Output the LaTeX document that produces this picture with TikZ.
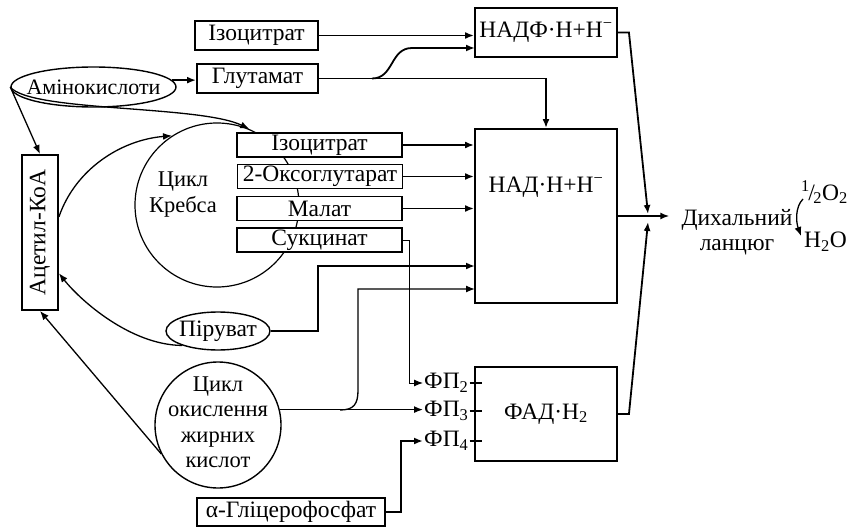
\documentclass[tikz,border=0pt]{standalone}
\usepackage{fontspec}
\setmainfont{Liberation Serif}
\usetikzlibrary{arrows.meta,calc,shapes.geometric}
\begin{document}
\begin{tikzpicture}[x=1pt,y=-1pt,
  font=\fontsize{23.5}{25.5}\selectfont,
  smallfont/.style={font=\fontsize{22.5}{25.5}\selectfont},
  box/.style={draw,line width=1.9pt,fill=white,inner sep=0pt},
  kbox/.style={box,minimum width=165pt,minimum height=24pt},
  shapeline/.style={draw,line width=1.4pt,inner sep=0pt},
  conn/.style={line width=1.8pt,-{Latex[length=9pt,width=7pt]}},
  thinconn/.style={line width=1.3pt,-{Latex[length=9pt,width=7pt]}},
  tick/.style={line width=1.6pt},
 ]
\useasboundingbox (0,0) rectangle (849,527);

% Krebs cycle circle (drawn first, boxes cover it)
\node[circle,shapeline,line width=1.2pt,minimum size=164pt] (krebs) at (217,205) {};
\node[align=center,smallfont] (krebstxt) at (183,194.5) {Цикл\\Кребса};

% boxes
\node[box,minimum width=123pt,minimum height=29pt] (iso1) at (256.5,35.5) {Ізоцитрат};
\node[box,minimum width=121pt,minimum height=29pt] (glu) at (257.5,78.5) {Глутамат};
\node[box,minimum width=142pt,minimum height=49pt] (nadph) at (546,32.5) {НАДФ·Н+Н\textsuperscript{−}};
\node[box,minimum width=142pt,minimum height=174pt] (nad) at (546,216) {};
\node (nadtxt) at (546,187) {НАД·Н+Н\textsuperscript{−}};
\node[box,minimum width=142pt,minimum height=94pt] (fad) at (546,414) {ФАД·Н\textsubscript{2}};

\node[kbox] (kiso) at (319.5,145) {Ізоцитрат};
\node[kbox] (koxo) at (320,176.5) {2-Оксоглутарат};
\node[kbox] (kmal) at (319.5,208.5) {Малат};
\node[kbox] (ksuc) at (319.5,240) {Сукцинат};

\node[box,minimum width=36pt,minimum height=155pt] (acoa) at (40,232.5) {};
\node[rotate=90] (acoatxt) at (acoa) {Ацетил-КоА};

\node[box,minimum width=188pt,minimum height=28pt] (agp) at (291,512) {α-Гліцерофосфат};

% ellipses and circle
\node[ellipse,shapeline,minimum width=165pt,minimum height=40pt] (amino) at (93.5,87) {};
\node[font=\fontsize{22}{24}\selectfont] (aminotxt) at (amino) {Амінокислоти};
\node[ellipse,shapeline,minimum width=104pt,minimum height=38pt] (pyr) at (218,331) {};
\node (pyrtxt) at (pyr) {Піруват};
\node[circle,shapeline,minimum size=126pt] (fat) at (218,425) {};
\node[align=center,smallfont] (fattxt) at (218,422) {Цикл\\окислення\\жирних\\кислот};

% FP labels
\node[anchor=west,inner sep=1pt] (fp2) at (423,383) {ФП\textsubscript{2}};
\node[anchor=west,inner sep=1pt] (fp3) at (423,411) {ФП\textsubscript{3}};
\node[anchor=west,inner sep=1pt] (fp4) at (423,441) {ФП\textsubscript{4}};
\draw[tick] (fp2.east) -- ($(fp2.east -| fad.west)+(8,0)$);
\draw[tick] (fp3.east) -- ($(fp3.east -| fad.west)+(8,0)$);
\draw[tick] (fp4.east) -- ($(fp4.east -| fad.west)+(8,0)$);

% respiratory chain
\node[align=center,inner xsep=12pt] (resp) at (737,232) {Дихальний\\ланцюг};
\node[anchor=east,inner sep=0pt] (o2) at (848,192) {\textsuperscript{1}\kern-1.5pt/\kern-1.5pt\textsubscript{2}O\textsubscript{2}};
\node[anchor=west,inner sep=0pt] (h2o) at (804,242) {H\textsubscript{2}O};
\coordinate (oa) at (803,199);
\coordinate (ob) at (801,236);
\draw[thinconn] (oa) .. controls (795,207) and (796,222) .. (ob);

% coordinates for entries
\coordinate (nadphin2) at (475,48);
\coordinate (pyrin) at (475,266);
\coordinate (fatin) at (475,289);
\coordinate (crossN) at (648,214);
\coordinate (crossS) at (648,222);

% connectors
\draw[conn] (amino.5) -- (amino.5 -| glu.west);
\draw[thinconn] (amino.west) -- (acoa.north);
\draw[thinconn] (amino.west) .. controls (30,112) and (200,105) .. (krebs.67);
\draw[thinconn] ($(acoa.north east)!0.4!(acoa.south east)$) .. controls (75,170) and (120,140) .. (krebs.123);
\draw[thinconn] (pyr.202) .. controls (130,345) and (80,300) .. ($(acoa.north east)!0.76!(acoa.south east)$);
\draw[thinconn] (fat.207) -- (acoa.south);

\draw[conn] (iso1.east) -- (iso1.east -| nadph.west);
\draw[conn] (glu.east) -| (nad.north);
\draw[conn] (372,78.5) .. controls (394,78.5) and (390,48) .. (412,48) -- (nadphin2);

\draw[conn] (kiso.east) -- (kiso.east -| nad.west);
\draw[conn] (koxo.east) -- (koxo.east -| nad.west);
\draw[conn] (kmal.east) -- (kmal.east -| nad.west);
\draw[thinconn,line width=1pt] (ksuc.east) -- ++(7,0) |- (fp2.west);

\draw[conn] (pyr.east) -- ++(47,0) |- (pyrin);
\draw[thinconn] (fat.14) -- (fat.14 -| fp3.west);
\draw[thinconn] (340,410) .. controls (354,410) and (358,404) .. (358,390) |- (fatin);
\draw[conn] (agp.east) -- ++(15,0) |- (fp4.west);

\draw[conn] (nadph.east) -- ++(11,0) -- (crossN);
\draw[conn] (fad.east) -- ++(11,0) -- (crossS);
\draw[conn] (nad.east) -- (nad.east -| resp.west);
\end{tikzpicture}
\end{document}
